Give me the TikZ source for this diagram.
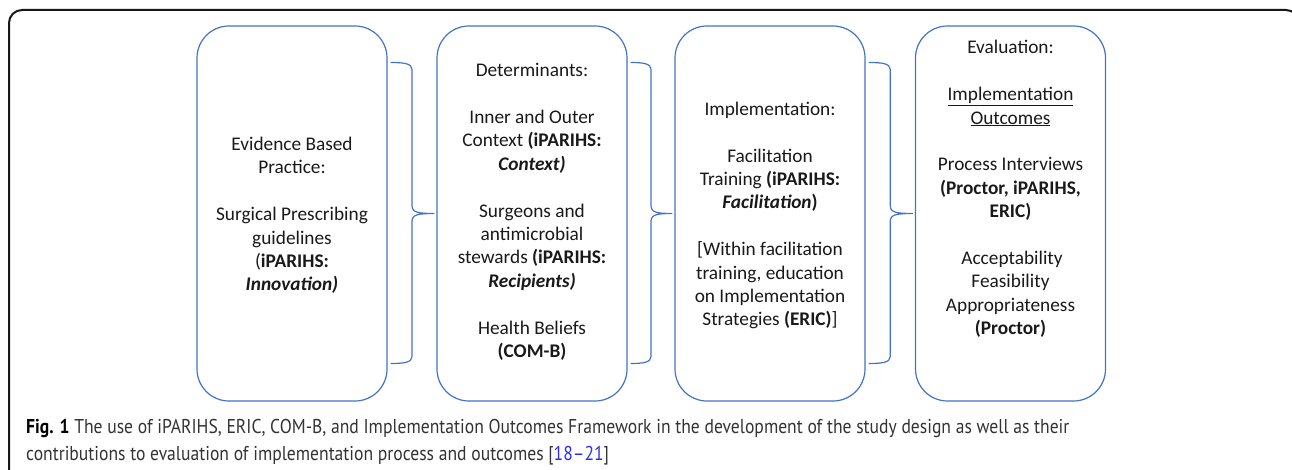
\documentclass[tikz,border=0pt]{standalone}
\usepackage{fontspec}
\setmainfont{Carlito}
\newfontfamily\capfont[FakeStretch=0.88]{PT Sans}
\usetikzlibrary{calc}
\definecolor{boxblue}{HTML}{4472C4}
\definecolor{refblue}{HTML}{2E2EE6}
\definecolor{captext}{HTML}{333333}

% curly bracket joining the right side of one stage to the left side of the next
\newcommand\stagebrace[2]{%
  \draw[linkline] let \p1=(#1.east), \p2=(#2.west), \n1={0.5*(\x1+\x2)} in
    (\x1+3pt,\y1+151pt) .. controls (\n1-8pt,\y1+151pt) and (\n1,\y1+150pt) .. (\n1,\y1+144pt)
    -- (\n1,\y1+8pt) .. controls (\n1,\y1+1pt) and (\n1+6pt,\y1) .. (\x2-2pt,\y1)
    .. controls (\n1+6pt,\y1) and (\n1,\y1-1pt) .. (\n1,\y1-8pt)
    -- (\n1,\y1-143pt) .. controls (\n1,\y1-149pt) and (\n1-8pt,\y1-150pt) .. (\x1+3pt,\y1-150pt);}

\begin{document}
\begin{tikzpicture}[x=1pt,y=-1pt,
  stage/.style={draw=boxblue, line width=1.2pt, rounded corners=32pt,
    minimum width=190pt, minimum height=375pt, inner sep=0pt},
  stagetext/.style={align=center, inner sep=0pt, text=black!90,
    font=\fontsize{19.3}{23.4}\selectfont},
  linkline/.style={draw=boxblue, line width=1.2pt},
  frameline/.style={draw=black!90, line width=2pt, rounded corners=13pt},
  captionstyle/.style={anchor=base west, align=left, inner sep=0pt, text=captext,
    font=\capfont\fontsize{20}{27}\selectfont},
]
\clip (0,0) rectangle (1292,470);

% outer frame
\draw[frameline] (9,490) -- (9,10) -- (1299,10) -- (1299,490);

% the four stages
\node[stage] (evidence)       at (292,213.5)    {};
\node[stage] (determinants)   at (532,213.5)    {};
\node[stage] (implementation) at (770,213.5)    {};
\node[stage] (evaluation)     at (1010.5,213.5) {};

\node[stagetext] (evidence-text) at (292,215.5)
  {Evidence Based\\Practice:\\[23.4pt]Surgical Prescribing\\guidelines\\
   (\textbf{iPARIHS:}\\\textbf{\textit{Innovation)}}};

\node[stagetext] (determinants-text) at (532,212)
  {Determinants:\\[23.4pt]Inner and Outer\\Context \textbf{(iPARIHS:}\\
   \textbf{\textit{Context)}}\\[23.4pt]Surgeons and\\antimicrobial\\
   stewards \textbf{(iPARIHS:}\\\textbf{\textit{Recipients)}}\\[23.4pt]
   Health Beliefs\\\textbf{(COM-B)}};

\node[stagetext] (implementation-text) at (770,215.5)
  {Implementation:\\[23.4pt]Facilitation\\Training \textbf{(iPARIHS:}\\
   \textbf{\textit{Facilitation})}\\[23.4pt][Within facilitation\\
   training, education\\on Implementation\\Strategies \textbf{(ERIC)}]};

\node[stagetext] (evaluation-text) at (1010.5,189)
  {Evaluation:\\[23.4pt]\underline{Implementation}\\\underline{Outcomes}\\[23.4pt]
   Process Interviews\\\textbf{(Proctor, iPARIHS,}\\\textbf{ERIC)}\\[23.4pt]
   \hspace{3pt}Acceptability\\Feasibility\\Appropriateness\\\textbf{(Proctor)}};

% brackets between consecutive stages
\stagebrace{evidence}{determinants}
\stagebrace{determinants}{implementation}
\stagebrace{implementation}{evaluation}

% caption (the node's base is the baseline of its last line)
\node[captionstyle] (caption) at (26,460)
  {{\color{black}\textbf{Fig. 1}} The use of iPARIHS, ERIC, COM-B, and Implementation Outcomes Framework in the development of the study design as well as their\\
   contributions to evaluation of implementation process and outcomes [\textcolor{refblue}{18–21}]};
\end{tikzpicture}
\end{document}
